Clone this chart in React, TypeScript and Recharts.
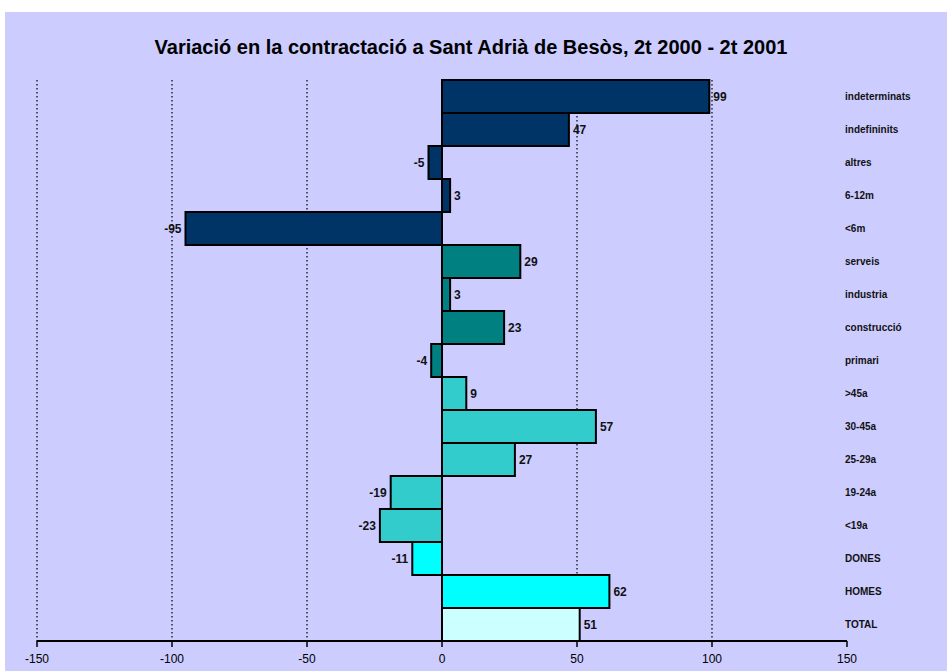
import React from "react";
import {
  Bar,
  BarChart,
  CartesianGrid,
  Cell,
  LabelList,
  ReferenceLine,
  XAxis,
  YAxis,
} from "recharts";

const categories = [
  "indeterminats",
  "indefininits",
  "altres",
  "6-12m",
  "<6m",
  "serveis",
  "industria",
  "construcció",
  "primari",
  ">45a",
  "30-45a",
  "25-29a",
  "19-24a",
  "<19a",
  "DONES",
  "HOMES",
  "TOTAL",
];

const values = [99, 47, -5, 3, -95, 29, 3, 23, -4, 9, 57, 27, -19, -23, -11, 62, 51];

const barColors = [
  "#003366", "#003366", "#003366", "#003366", "#003366",
  "#008080", "#008080", "#008080", "#008080",
  "#33CCCC", "#33CCCC", "#33CCCC", "#33CCCC", "#33CCCC",
  "#00FFFF", "#00FFFF",
  "#CCFFFF",
];

const xTicks = [-150, -100, -50, 0, 50, 100, 150];
const gridValues = [-150, -100, -50, 50, 100];

const data = categories.map((name, i) => ({ name, value: values[i] }));

const font = "'Liberation Sans', Arial, sans-serif";

function CategoryTick(props: any) {
  const { x, y, payload } = props;
  return (
    <text
      x={x - 2}
      y={y}
      dominantBaseline="central"
      textAnchor="start"
      fontFamily={font}
      fontSize={10}
      fontWeight="bold"
      fill="#111"
    >
      {payload.value}
    </text>
  );
}

function ValueLabel(props: any) {
  const { x, y, width, height, value } = props;
  const left = Math.min(x, x + width);
  const right = Math.max(x, x + width);
  const neg = value < 0;
  return (
    <text
      x={neg ? left - 4 : right + 4}
      y={y + height / 2}
      dominantBaseline="central"
      textAnchor={neg ? "end" : "start"}
      fontFamily={font}
      fontSize={12}
      fontWeight="bold"
      fill="#111"
    >
      {value}
    </text>
  );
}

export default function App() {
  return (
    <div style={{ position: "relative", width: 947, height: 671, background: "#fff", overflow: "hidden" }}>
      <style>{`body{margin:0}`}</style>
      <div
        style={{
          position: "absolute",
          left: 5,
          top: 12,
          width: 942,
          height: 659,
          background: "#CCCCFF",
        }}
      >
        <div
          style={{
            position: "absolute",
            left: 0,
            top: 24,
            width: 932,
            textAlign: "center",
            fontFamily: font,
            fontWeight: "bold",
            fontSize: 20,
            lineHeight: "23px",
            color: "#000",
          }}
        >
          Variació en la contractació a Sant Adrià de Besòs, 2t 2000 - 2t 2001
        </div>
        <BarChart
          width={942}
          height={659}
          data={data}
          layout="vertical"
          barCategoryGap={0}
          margin={{ top: 68, right: 0, bottom: 0, left: 32 }}
        >
          <CartesianGrid
            horizontal={false}
            verticalValues={gridValues}
            stroke="#000"
            strokeWidth={1.2}
            strokeDasharray="1.5 2.5"
          />
          <XAxis
            type="number"
            domain={[-150, 150]}
            ticks={xTicks}
            interval={0}
            height={30}
            axisLine={{ stroke: "#000", strokeWidth: 2 }}
            tickLine={{ stroke: "#000", strokeWidth: 1.5 }}
            tickSize={6}
            tickMargin={7}
            tick={{ fontFamily: font, fontSize: 12, fill: "#000" }}
          />
          <YAxis
            type="category"
            dataKey="name"
            orientation="right"
            width={100}
            axisLine={false}
            tickLine={false}
            tickSize={0}
            tickMargin={0}
            interval={0}
            tick={<CategoryTick />}
          />
          <Bar dataKey="value" stroke="#000" strokeWidth={2} isAnimationActive={false}>
            {data.map((d, i) => (
              <Cell key={d.name} fill={barColors[i]} />
            ))}
            <LabelList dataKey="value" content={<ValueLabel />} />
          </Bar>
          <ReferenceLine x={0} stroke="#000" strokeWidth={2} />
        </BarChart>
      </div>
    </div>
  );
}
